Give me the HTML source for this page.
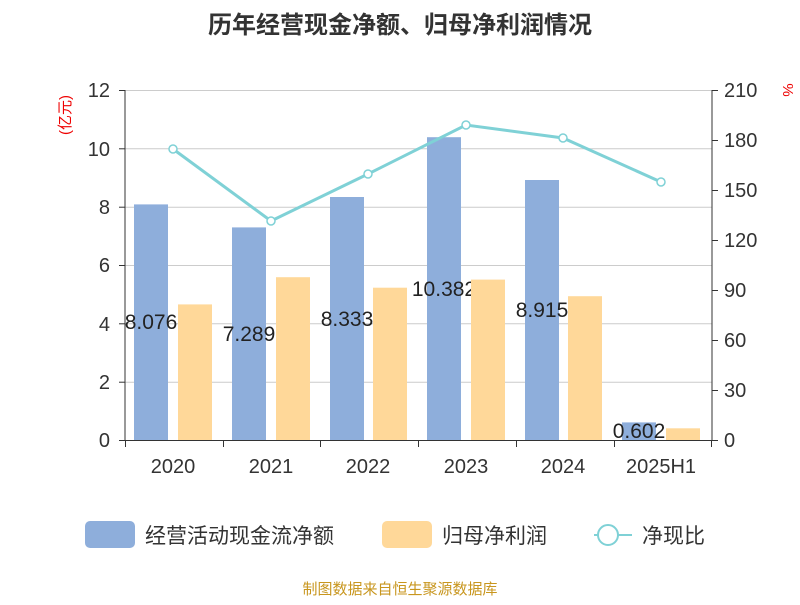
<!DOCTYPE html>
<html><head><meta charset="utf-8"><style>
body{margin:0;background:#fff;}
svg text{font-family:"Liberation Sans","Noto Sans CJK SC",sans-serif;}
</style></head><body>
<svg width="800" height="600" xmlns="http://www.w3.org/2000/svg">
<text x="400" y="33" text-anchor="middle" font-size="24" font-weight="bold" fill="#333">历年经营现金净额、归母净利润情况</text>
<g stroke="#ccc" stroke-width="1">
<line x1="125" y1="90.5" x2="712" y2="90.5"/>
<line x1="125" y1="148.8" x2="712" y2="148.8"/>
<line x1="125" y1="207.2" x2="712" y2="207.2"/>
<line x1="125" y1="265.5" x2="712" y2="265.5"/>
<line x1="125" y1="323.8" x2="712" y2="323.8"/>
<line x1="125" y1="382.2" x2="712" y2="382.2"/>
</g>
<g fill="#8eaedb">
<rect x="134" y="204.4" width="34" height="235.6"/>
<rect x="232" y="227.4" width="34" height="212.6"/>
<rect x="330" y="197" width="34" height="243"/>
<rect x="427" y="137.2" width="34" height="302.8"/>
<rect x="525" y="180" width="34" height="260"/>
<rect x="622" y="422.4" width="34" height="17.6"/>
</g>
<g font-size="21" fill="#222" text-anchor="middle">
<text x="151" y="329">8.076</text>
<text x="249" y="341">7.289</text>
<text x="347" y="326">8.333</text>
<text x="444" y="296">10.382</text>
<text x="542" y="317">8.915</text>
<text x="639" y="438">0.602</text>
</g>
<g fill="#ffd899">
<rect x="178" y="304.4" width="34" height="135.6"/>
<rect x="276" y="277.2" width="34" height="162.8"/>
<rect x="373" y="287.7" width="34" height="152.3"/>
<rect x="471" y="279.6" width="34" height="160.4"/>
<rect x="568" y="296.2" width="34" height="143.8"/>
<rect x="666" y="428.3" width="34" height="11.7"/>
</g>
<polyline points="173,149 271,221 368,174 466,125 563,138 661,182" fill="none" stroke="#7fd1d6" stroke-width="3"/>
<g fill="#fff" stroke="#7fd1d6" stroke-width="1.5">
<circle cx="173" cy="149" r="4"/><circle cx="271" cy="221" r="4"/><circle cx="368" cy="174" r="4"/>
<circle cx="466" cy="125" r="4"/><circle cx="563" cy="138" r="4"/><circle cx="661" cy="182" r="4"/>
</g>
<g stroke="#333" stroke-width="1">
<line x1="125" y1="90" x2="125" y2="441"/>
<line x1="712" y1="90" x2="712" y2="441"/>
<line x1="125" y1="440.5" x2="712" y2="440.5"/>
<line x1="119" y1="90.5" x2="125" y2="90.5"/><line x1="119" y1="148.8" x2="125" y2="148.8"/>
<line x1="119" y1="207.2" x2="125" y2="207.2"/><line x1="119" y1="265.5" x2="125" y2="265.5"/>
<line x1="119" y1="323.8" x2="125" y2="323.8"/><line x1="119" y1="382.2" x2="125" y2="382.2"/>
<line x1="119" y1="440.5" x2="125" y2="440.5"/>
<line x1="712" y1="90.5" x2="718" y2="90.5"/><line x1="712" y1="140.5" x2="718" y2="140.5"/>
<line x1="712" y1="190.5" x2="718" y2="190.5"/><line x1="712" y1="240.5" x2="718" y2="240.5"/>
<line x1="712" y1="290.5" x2="718" y2="290.5"/><line x1="712" y1="340.5" x2="718" y2="340.5"/>
<line x1="712" y1="390.5" x2="718" y2="390.5"/><line x1="712" y1="440.5" x2="718" y2="440.5"/>
<line x1="125.5" y1="440" x2="125.5" y2="447"/><line x1="223.5" y1="440" x2="223.5" y2="447"/>
<line x1="320.5" y1="440" x2="320.5" y2="447"/><line x1="418.5" y1="440" x2="418.5" y2="447"/>
<line x1="516.5" y1="440" x2="516.5" y2="447"/><line x1="614.5" y1="440" x2="614.5" y2="447"/>
<line x1="711.5" y1="440" x2="711.5" y2="447"/>
</g>
<g font-size="20" fill="#333" text-anchor="end">
<text x="110" y="97">12</text><text x="110" y="156">10</text><text x="110" y="214">8</text>
<text x="110" y="272">6</text><text x="110" y="331">4</text><text x="110" y="389">2</text><text x="110" y="447">0</text>
</g>
<g font-size="20" fill="#333" text-anchor="start">
<text x="724" y="97">210</text><text x="724" y="147">180</text><text x="724" y="197">150</text>
<text x="724" y="247">120</text><text x="724" y="297">90</text><text x="724" y="347">60</text>
<text x="724" y="397">30</text><text x="724" y="447">0</text>
</g>
<g font-size="20" fill="#333" text-anchor="middle">
<text x="173" y="473">2020</text><text x="271" y="473">2021</text><text x="368" y="473">2022</text>
<text x="466" y="473">2023</text><text x="563" y="473">2024</text><text x="661" y="473">2025H1</text>
</g>
<text transform="translate(70,115) rotate(-90)" font-size="15" fill="#e00" text-anchor="middle">(亿元)</text>
<text transform="translate(783,90) rotate(90)" font-size="15" fill="#e00" text-anchor="middle">%</text>
<rect x="85" y="521" width="50" height="27" rx="5" fill="#8eaedb"/>
<text x="145" y="543" font-size="21" fill="#333">经营活动现金流净额</text>
<rect x="382" y="521" width="50" height="27" rx="5" fill="#ffd899"/>
<text x="442" y="543" font-size="21" fill="#333">归母净利润</text>
<line x1="594" y1="535" x2="632" y2="535" stroke="#7fd1d6" stroke-width="2"/>
<circle cx="608" cy="535" r="10" fill="#fff" stroke="#7fd1d6" stroke-width="2"/>
<text x="642" y="543" font-size="21" fill="#333">净现比</text>
<text x="400" y="594" font-size="15" fill="#c8961e" text-anchor="middle">制图数据来自恒生聚源数据库</text>
</svg>
</body></html>
